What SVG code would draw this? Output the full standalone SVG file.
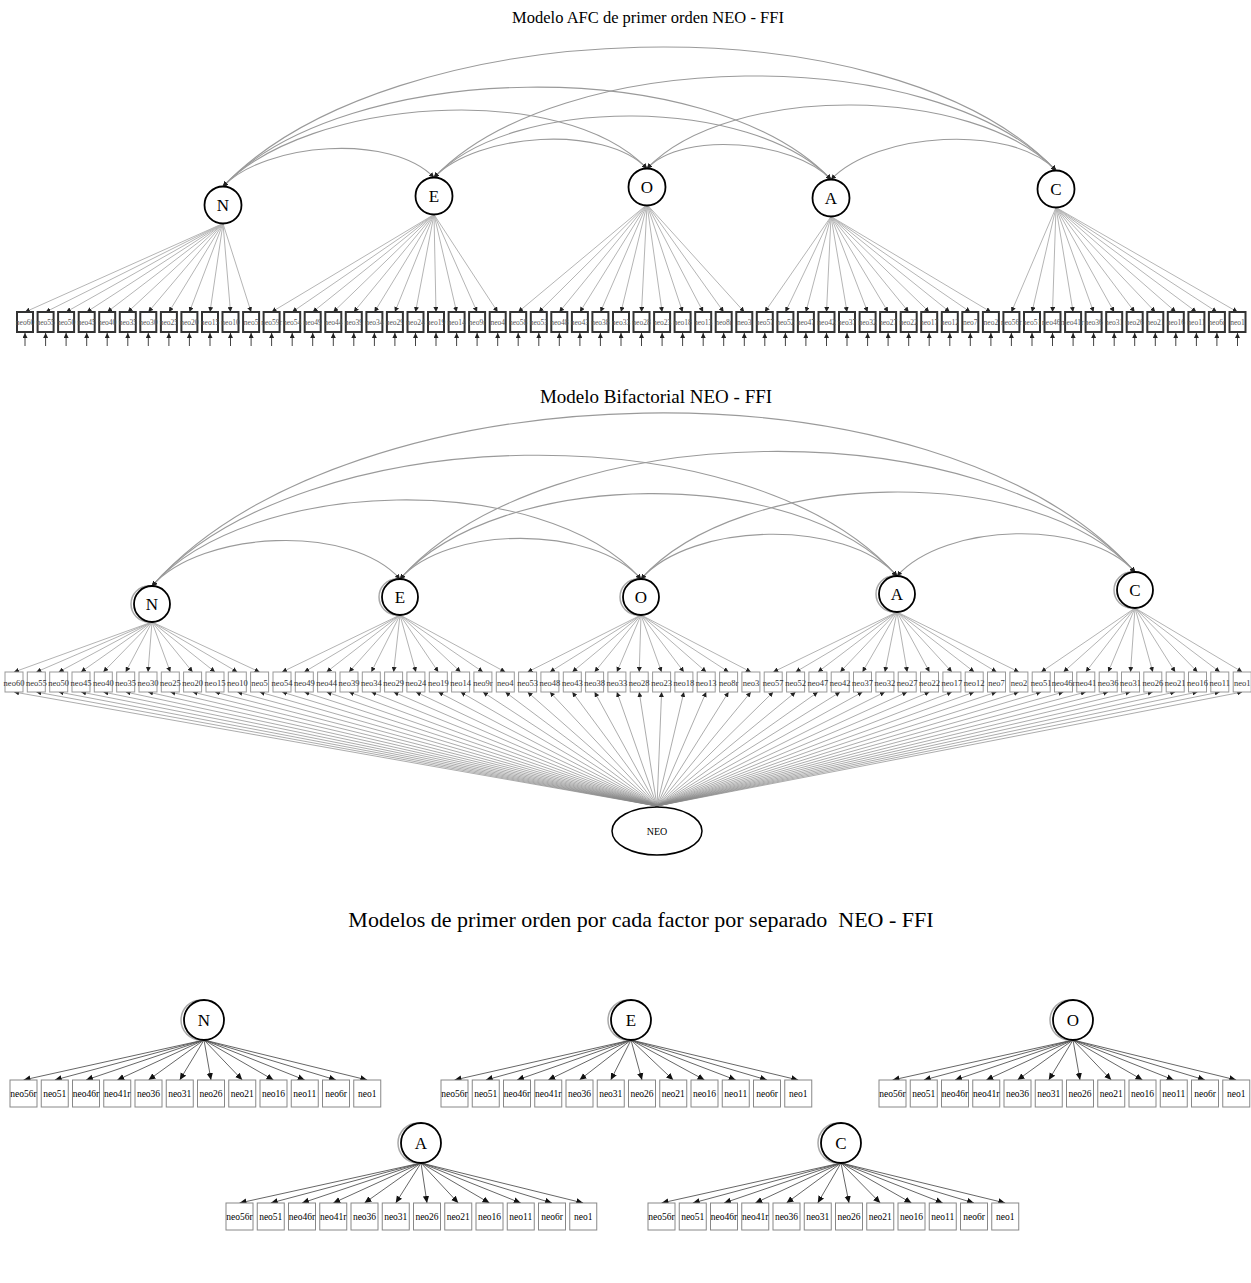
<svg xmlns="http://www.w3.org/2000/svg" width="1251" height="1283" viewBox="0 0 1251 1283">
<defs>
<marker id="ah" viewBox="0 0 10 10" refX="10" refY="5" markerWidth="5" markerHeight="5" markerUnits="userSpaceOnUse" orient="auto-start-reverse"><path d="M0,0L10,5L0,10z" fill="#222"/></marker>
<marker id="ah3" viewBox="0 0 10 10" refX="10" refY="5" markerWidth="7" markerHeight="7" markerUnits="userSpaceOnUse" orient="auto-start-reverse"><path d="M0,0.5L10,5L0,9.5z" fill="#111"/></marker>
</defs>
<style>
text{font-family:"Liberation Serif","Times New Roman",serif;fill:#000}
.title{font-size:16.5px;text-anchor:middle}
.lv circle{fill:#fff;stroke:#000;stroke-width:1.8}
.lv circle.sh{fill:none;stroke:#aaa;stroke-width:1.5}
.lv text{font-size:17px;text-anchor:middle}
.lv ellipse{fill:#fff;stroke:#000;stroke-width:1.5}
.lv text.neo{font-size:10px}
.s1 rect{fill:#fff;stroke:#333;stroke-width:2}
.s1 text{font-size:7.5px;text-anchor:middle;fill:#555}
.s2 rect{fill:#fff;stroke:#999;stroke-width:1}
.s2 text{font-size:8.5px;text-anchor:middle;fill:#333}
.s3 rect{fill:#fff;stroke:#888;stroke-width:1}
.s3 text{font-size:9.5px;text-anchor:middle}
.arc path{fill:none;stroke:#9a9a9a;stroke-width:1.1;marker-start:url(#ah);marker-end:url(#ah)}
.ld1 path{fill:none;stroke:#b5b5b5;stroke-width:1;marker-end:url(#ah)}
.rs1 path{fill:none;stroke:#444;stroke-width:1;marker-end:url(#ah)}
.ld2 path{fill:none;stroke:#aaa;stroke-width:0.9;marker-end:url(#ah)}
.gl2 path{fill:none;stroke:#888;stroke-width:0.7;marker-end:url(#ah)}
.ld3 path{fill:none;stroke:#555;stroke-width:0.9;marker-end:url(#ah3)}
</style>
<rect width="1251" height="1283" fill="#fff"/>

<text class="title" x="648" y="23">Modelo AFC de primer orden NEO - FFI</text>
<text class="title" x="656" y="403" style="font-size:19px">Modelo Bifactorial NEO - FFI</text>
<text class="title" x="641" y="927" style="font-size:22px;white-space:pre">Modelos de primer orden por cada factor por separado  NEO - FFI</text>

<g id="connectors">
<g class="arc" id="s1-covariances">
<path d="M223,186.5C265.2,142.2 391.8,133.2 434,177.5"/>
<path d="M223,186.5C307.8,97.5 562.2,79.5 647,168.5"/>
<path d="M223,186.5C344.6,58.8 709.4,51.8 831,179.5"/>
<path d="M223,186.5C389.6,11.6 889.4,-4.4 1056,170.5"/>
<path d="M434,177.5C476.6,132.8 604.4,123.8 647,168.5"/>
<path d="M434,177.5C513.4,94.1 751.6,96.1 831,179.5"/>
<path d="M434,177.5C558.4,46.9 931.6,39.9 1056,170.5"/>
<path d="M647,168.5C683.8,129.9 794.2,140.9 831,179.5"/>
<path d="M647,168.5C728.8,82.6 974.2,84.6 1056,170.5"/>
<path d="M831,179.5C876,132.2 1011,123.2 1056,170.5"/>
</g>
<g class="ld1" id="s1-loadings">
<path d="M223,223.5L25,312"/><path d="M223,223.5L45.6,312"/><path d="M223,223.5L66.1,312"/><path d="M223,223.5L86.7,312"/><path d="M223,223.5L107.2,312"/><path d="M223,223.5L127.8,312"/><path d="M223,223.5L148.3,312"/><path d="M223,223.5L168.9,312"/><path d="M223,223.5L189.4,312"/><path d="M223,223.5L210,312"/><path d="M223,223.5L230.5,312"/><path d="M223,223.5L251.1,312"/>
<path d="M434,214.5L271.6,312"/><path d="M434,214.5L292.2,312"/><path d="M434,214.5L312.7,312"/><path d="M434,214.5L333.3,312"/><path d="M434,214.5L353.8,312"/><path d="M434,214.5L374.4,312"/><path d="M434,214.5L394.9,312"/><path d="M434,214.5L415.5,312"/><path d="M434,214.5L436,312"/><path d="M434,214.5L456.6,312"/><path d="M434,214.5L477.1,312"/><path d="M434,214.5L497.7,312"/>
<path d="M647,204.5L518.2,312"/><path d="M647,204.5L538.8,312"/><path d="M647,204.5L559.3,312"/><path d="M647,204.5L579.9,312"/><path d="M647,204.5L600.4,312"/><path d="M647,204.5L621,312"/><path d="M647,204.5L641.5,312"/><path d="M647,204.5L662.1,312"/><path d="M647,204.5L682.6,312"/><path d="M647,204.5L703.2,312"/><path d="M647,204.5L723.7,312"/><path d="M647,204.5L744.3,312"/>
<path d="M831,216.5L764.8,312"/><path d="M831,216.5L785.4,312"/><path d="M831,216.5L805.9,312"/><path d="M831,216.5L826.5,312"/><path d="M831,216.5L847,312"/><path d="M831,216.5L867.6,312"/><path d="M831,216.5L888.1,312"/><path d="M831,216.5L908.7,312"/><path d="M831,216.5L929.2,312"/><path d="M831,216.5L949.8,312"/><path d="M831,216.5L970.3,312"/><path d="M831,216.5L990.9,312"/>
<path d="M1056,207.5L1011.4,312"/><path d="M1056,207.5L1032,312"/><path d="M1056,207.5L1052.5,312"/><path d="M1056,207.5L1073.1,312"/><path d="M1056,207.5L1093.6,312"/><path d="M1056,207.5L1114.2,312"/><path d="M1056,207.5L1134.7,312"/><path d="M1056,207.5L1155.3,312"/><path d="M1056,207.5L1175.8,312"/><path d="M1056,207.5L1196.4,312"/><path d="M1056,207.5L1216.9,312"/><path d="M1056,207.5L1237.5,312"/>
</g>
<g class="rs1" id="s1-residuals">
<path d="M25,346V333"/><path d="M45.6,346V333"/><path d="M66.1,346V333"/><path d="M86.7,346V333"/><path d="M107.2,346V333"/><path d="M127.8,346V333"/><path d="M148.3,346V333"/><path d="M168.9,346V333"/><path d="M189.4,346V333"/><path d="M210,346V333"/><path d="M230.5,346V333"/><path d="M251.1,346V333"/>
<path d="M271.6,346V333"/><path d="M292.2,346V333"/><path d="M312.7,346V333"/><path d="M333.3,346V333"/><path d="M353.8,346V333"/><path d="M374.4,346V333"/><path d="M394.9,346V333"/><path d="M415.5,346V333"/><path d="M436,346V333"/><path d="M456.6,346V333"/><path d="M477.1,346V333"/><path d="M497.7,346V333"/>
<path d="M518.2,346V333"/><path d="M538.8,346V333"/><path d="M559.3,346V333"/><path d="M579.9,346V333"/><path d="M600.4,346V333"/><path d="M621,346V333"/><path d="M641.5,346V333"/><path d="M662.1,346V333"/><path d="M682.6,346V333"/><path d="M703.2,346V333"/><path d="M723.7,346V333"/><path d="M744.3,346V333"/>
<path d="M764.8,346V333"/><path d="M785.4,346V333"/><path d="M805.9,346V333"/><path d="M826.5,346V333"/><path d="M847,346V333"/><path d="M867.6,346V333"/><path d="M888.1,346V333"/><path d="M908.7,346V333"/><path d="M929.2,346V333"/><path d="M949.8,346V333"/><path d="M970.3,346V333"/><path d="M990.9,346V333"/>
<path d="M1011.4,346V333"/><path d="M1032,346V333"/><path d="M1052.5,346V333"/><path d="M1073.1,346V333"/><path d="M1093.6,346V333"/><path d="M1114.2,346V333"/><path d="M1134.7,346V333"/><path d="M1155.3,346V333"/><path d="M1175.8,346V333"/><path d="M1196.4,346V333"/><path d="M1216.9,346V333"/><path d="M1237.5,346V333"/>
</g>

<g class="arc" id="s2-covariances">
<path d="M152,586C201.6,530.2 350.4,523.2 400,579"/>
<path d="M152,586C249.8,476 543.2,469 641,579"/>
<path d="M152,586C301,418.4 748,408.4 897,576"/>
<path d="M152,586C348.6,364.8 938.4,350.8 1135,572"/>
<path d="M400,579C448.2,524.8 592.8,524.8 641,579"/>
<path d="M400,579C499.4,467.2 797.6,464.2 897,576"/>
<path d="M400,579C547,413.6 988,406.6 1135,572"/>
<path d="M641,579C692.2,521.4 845.8,518.4 897,576"/>
<path d="M641,579C739.8,467.8 1036.2,460.8 1135,572"/>
<path d="M897,576C944.6,522.4 1087.4,518.4 1135,572"/>
</g>
<g class="ld2" id="s2-loadings">
<path d="M152,622L14,672"/><path d="M152,622L36.3,672"/><path d="M152,622L58.7,672"/><path d="M152,622L81,672"/><path d="M152,622L103.3,672"/><path d="M152,622L125.7,672"/><path d="M152,622L148,672"/><path d="M152,622L170.3,672"/><path d="M152,622L192.6,672"/><path d="M152,622L215,672"/><path d="M152,622L237.3,672"/><path d="M152,622L259.6,672"/>
<path d="M400,615L282,672"/><path d="M400,615L304.3,672"/><path d="M400,615L326.6,672"/><path d="M400,615L349,672"/><path d="M400,615L371.3,672"/><path d="M400,615L393.6,672"/><path d="M400,615L415.9,672"/><path d="M400,615L438.3,672"/><path d="M400,615L460.6,672"/><path d="M400,615L482.9,672"/><path d="M400,615L505.3,672"/>
<path d="M641,615L527.6,672"/><path d="M641,615L549.9,672"/><path d="M641,615L572.3,672"/><path d="M641,615L594.6,672"/><path d="M641,615L616.9,672"/><path d="M641,615L639.2,672"/><path d="M641,615L661.6,672"/><path d="M641,615L683.9,672"/><path d="M641,615L706.2,672"/><path d="M641,615L728.6,672"/><path d="M641,615L750.9,672"/>
<path d="M897,612L773.2,672"/><path d="M897,612L795.6,672"/><path d="M897,612L817.9,672"/><path d="M897,612L840.2,672"/><path d="M897,612L862.5,672"/><path d="M897,612L884.9,672"/><path d="M897,612L907.2,672"/><path d="M897,612L929.5,672"/><path d="M897,612L951.9,672"/><path d="M897,612L974.2,672"/><path d="M897,612L996.5,672"/><path d="M897,612L1018.9,672"/>
<path d="M1135,608L1041.2,672"/><path d="M1135,608L1063.5,672"/><path d="M1135,608L1085.8,672"/><path d="M1135,608L1108.2,672"/><path d="M1135,608L1130.5,672"/><path d="M1135,608L1152.8,672"/><path d="M1135,608L1175.2,672"/><path d="M1135,608L1197.5,672"/><path d="M1135,608L1219.8,672"/><path d="M1135,608L1242.2,672"/>
</g>
<g class="gl2" id="s2-general">
<path d="M657,806L14,692"/><path d="M657,806L36.3,692"/><path d="M657,806L58.7,692"/><path d="M657,806L81,692"/><path d="M657,806L103.3,692"/><path d="M657,806L125.7,692"/><path d="M657,806L148,692"/><path d="M657,806L170.3,692"/><path d="M657,806L192.6,692"/><path d="M657,806L215,692"/><path d="M657,806L237.3,692"/><path d="M657,806L259.6,692"/>
<path d="M657,806L282,692"/><path d="M657,806L304.3,692"/><path d="M657,806L326.6,692"/><path d="M657,806L349,692"/><path d="M657,806L371.3,692"/><path d="M657,806L393.6,692"/><path d="M657,806L415.9,692"/><path d="M657,806L438.3,692"/><path d="M657,806L460.6,692"/><path d="M657,806L482.9,692"/><path d="M657,806L505.3,692"/>
<path d="M657,806L527.6,692"/><path d="M657,806L549.9,692"/><path d="M657,806L572.3,692"/><path d="M657,806L594.6,692"/><path d="M657,806L616.9,692"/><path d="M657,806L639.2,692"/><path d="M657,806L661.6,692"/><path d="M657,806L683.9,692"/><path d="M657,806L706.2,692"/><path d="M657,806L728.6,692"/><path d="M657,806L750.9,692"/>
<path d="M657,806L773.2,692"/><path d="M657,806L795.6,692"/><path d="M657,806L817.9,692"/><path d="M657,806L840.2,692"/><path d="M657,806L862.5,692"/><path d="M657,806L884.9,692"/><path d="M657,806L907.2,692"/><path d="M657,806L929.5,692"/><path d="M657,806L951.9,692"/><path d="M657,806L974.2,692"/><path d="M657,806L996.5,692"/><path d="M657,806L1018.9,692"/>
<path d="M657,806L1041.2,692"/><path d="M657,806L1063.5,692"/><path d="M657,806L1085.8,692"/><path d="M657,806L1108.2,692"/><path d="M657,806L1130.5,692"/><path d="M657,806L1152.8,692"/><path d="M657,806L1175.2,692"/><path d="M657,806L1197.5,692"/><path d="M657,806L1219.8,692"/><path d="M657,806L1242.2,692"/>
</g>

<g class="ld3" id="s3-loadings">
<path d="M204,1040L23.5,1080"/><path d="M204,1040L54.75,1080"/><path d="M204,1040L86,1080"/><path d="M204,1040L117.25,1080"/><path d="M204,1040L148.5,1080"/><path d="M204,1040L179.75,1080"/><path d="M204,1040L211,1080"/><path d="M204,1040L242.25,1080"/><path d="M204,1040L273.5,1080"/><path d="M204,1040L304.75,1080"/><path d="M204,1040L336,1080"/><path d="M204,1040L367.25,1080"/>
<path d="M631,1040L454.5,1080"/><path d="M631,1040L485.75,1080"/><path d="M631,1040L517,1080"/><path d="M631,1040L548.25,1080"/><path d="M631,1040L579.5,1080"/><path d="M631,1040L610.75,1080"/><path d="M631,1040L642,1080"/><path d="M631,1040L673.25,1080"/><path d="M631,1040L704.5,1080"/><path d="M631,1040L735.75,1080"/><path d="M631,1040L767,1080"/><path d="M631,1040L798.25,1080"/>
<path d="M1073,1040L892.5,1080"/><path d="M1073,1040L923.75,1080"/><path d="M1073,1040L955,1080"/><path d="M1073,1040L986.25,1080"/><path d="M1073,1040L1017.5,1080"/><path d="M1073,1040L1048.75,1080"/><path d="M1073,1040L1080,1080"/><path d="M1073,1040L1111.25,1080"/><path d="M1073,1040L1142.5,1080"/><path d="M1073,1040L1173.75,1080"/><path d="M1073,1040L1205,1080"/><path d="M1073,1040L1236.25,1080"/>
<path d="M421,1163L239.5,1203"/><path d="M421,1163L270.75,1203"/><path d="M421,1163L302,1203"/><path d="M421,1163L333.25,1203"/><path d="M421,1163L364.5,1203"/><path d="M421,1163L395.75,1203"/><path d="M421,1163L427,1203"/><path d="M421,1163L458.25,1203"/><path d="M421,1163L489.5,1203"/><path d="M421,1163L520.75,1203"/><path d="M421,1163L552,1203"/><path d="M421,1163L583.25,1203"/>
<path d="M841,1163L661.5,1203"/><path d="M841,1163L692.75,1203"/><path d="M841,1163L724,1203"/><path d="M841,1163L755.25,1203"/><path d="M841,1163L786.5,1203"/><path d="M841,1163L817.75,1203"/><path d="M841,1163L849,1203"/><path d="M841,1163L880.25,1203"/><path d="M841,1163L911.5,1203"/><path d="M841,1163L942.75,1203"/><path d="M841,1163L974,1203"/><path d="M841,1163L1005.25,1203"/>
</g>
</g>

<!-- Section 1 latent nodes -->
<g class="lv">
<g id="s1-N"><circle cx="223" cy="205" r="18.5"/><text x="223" y="211">N</text></g>
<g id="s1-E"><circle cx="434" cy="196" r="18.5"/><text x="434" y="202">E</text></g>
<g id="s1-O"><circle cx="647" cy="187" r="18.5"/><text x="647" y="193">O</text></g>
<g id="s1-A"><circle cx="831" cy="198" r="18.5"/><text x="831" y="204">A</text></g>
<g id="s1-C"><circle cx="1056" cy="189" r="18.5"/><text x="1056" y="195">C</text></g>
</g>
<!-- Section 1 items -->
<g class="s1">
<g id="s1-neo60" transform="translate(25,312)"><rect x="-8" width="16" height="20"/><text y="13">neo60</text></g>
<g id="s1-neo55" transform="translate(45.6,312)"><rect x="-8" width="16" height="20"/><text y="13">neo55</text></g>
<g id="s1-neo50" transform="translate(66.1,312)"><rect x="-8" width="16" height="20"/><text y="13">neo50</text></g>
<g id="s1-neo45" transform="translate(86.7,312)"><rect x="-8" width="16" height="20"/><text y="13">neo45</text></g>
<g id="s1-neo40" transform="translate(107.2,312)"><rect x="-8" width="16" height="20"/><text y="13">neo40</text></g>
<g id="s1-neo35" transform="translate(127.8,312)"><rect x="-8" width="16" height="20"/><text y="13">neo35</text></g>
<g id="s1-neo30" transform="translate(148.3,312)"><rect x="-8" width="16" height="20"/><text y="13">neo30</text></g>
<g id="s1-neo25" transform="translate(168.9,312)"><rect x="-8" width="16" height="20"/><text y="13">neo25</text></g>
<g id="s1-neo20" transform="translate(189.4,312)"><rect x="-8" width="16" height="20"/><text y="13">neo20</text></g>
<g id="s1-neo15" transform="translate(210,312)"><rect x="-8" width="16" height="20"/><text y="13">neo15</text></g>
<g id="s1-neo10" transform="translate(230.5,312)"><rect x="-8" width="16" height="20"/><text y="13">neo10</text></g>
<g id="s1-neo5" transform="translate(251.1,312)"><rect x="-8" width="16" height="20"/><text y="13">neo5</text></g>
<g id="s1-neo59r" transform="translate(271.6,312)"><rect x="-8" width="16" height="20"/><text y="13">neo59r</text></g>
<g id="s1-neo54" transform="translate(292.2,312)"><rect x="-8" width="16" height="20"/><text y="13">neo54</text></g>
<g id="s1-neo49" transform="translate(312.7,312)"><rect x="-8" width="16" height="20"/><text y="13">neo49</text></g>
<g id="s1-neo44" transform="translate(333.3,312)"><rect x="-8" width="16" height="20"/><text y="13">neo44</text></g>
<g id="s1-neo39" transform="translate(353.8,312)"><rect x="-8" width="16" height="20"/><text y="13">neo39</text></g>
<g id="s1-neo34" transform="translate(374.4,312)"><rect x="-8" width="16" height="20"/><text y="13">neo34</text></g>
<g id="s1-neo29" transform="translate(394.9,312)"><rect x="-8" width="16" height="20"/><text y="13">neo29</text></g>
<g id="s1-neo24" transform="translate(415.5,312)"><rect x="-8" width="16" height="20"/><text y="13">neo24</text></g>
<g id="s1-neo19" transform="translate(436,312)"><rect x="-8" width="16" height="20"/><text y="13">neo19</text></g>
<g id="s1-neo14" transform="translate(456.6,312)"><rect x="-8" width="16" height="20"/><text y="13">neo14</text></g>
<g id="s1-neo9r" transform="translate(477.1,312)"><rect x="-8" width="16" height="20"/><text y="13">neo9r</text></g>
<g id="s1-neo4" transform="translate(497.7,312)"><rect x="-8" width="16" height="20"/><text y="13">neo4</text></g>
<g id="s1-neo58" transform="translate(518.2,312)"><rect x="-8" width="16" height="20"/><text y="13">neo58</text></g>
<g id="s1-neo53" transform="translate(538.8,312)"><rect x="-8" width="16" height="20"/><text y="13">neo53</text></g>
<g id="s1-neo48" transform="translate(559.3,312)"><rect x="-8" width="16" height="20"/><text y="13">neo48</text></g>
<g id="s1-neo43" transform="translate(579.9,312)"><rect x="-8" width="16" height="20"/><text y="13">neo43</text></g>
<g id="s1-neo38" transform="translate(600.4,312)"><rect x="-8" width="16" height="20"/><text y="13">neo38</text></g>
<g id="s1-neo33" transform="translate(621,312)"><rect x="-8" width="16" height="20"/><text y="13">neo33</text></g>
<g id="s1-neo28" transform="translate(641.5,312)"><rect x="-8" width="16" height="20"/><text y="13">neo28</text></g>
<g id="s1-neo23" transform="translate(662.1,312)"><rect x="-8" width="16" height="20"/><text y="13">neo23</text></g>
<g id="s1-neo18" transform="translate(682.6,312)"><rect x="-8" width="16" height="20"/><text y="13">neo18</text></g>
<g id="s1-neo13" transform="translate(703.2,312)"><rect x="-8" width="16" height="20"/><text y="13">neo13</text></g>
<g id="s1-neo8r" transform="translate(723.7,312)"><rect x="-8" width="16" height="20"/><text y="13">neo8r</text></g>
<g id="s1-neo3" transform="translate(744.3,312)"><rect x="-8" width="16" height="20"/><text y="13">neo3</text></g>
<g id="s1-neo57" transform="translate(764.8,312)"><rect x="-8" width="16" height="20"/><text y="13">neo57</text></g>
<g id="s1-neo52" transform="translate(785.4,312)"><rect x="-8" width="16" height="20"/><text y="13">neo52</text></g>
<g id="s1-neo47" transform="translate(805.9,312)"><rect x="-8" width="16" height="20"/><text y="13">neo47</text></g>
<g id="s1-neo42" transform="translate(826.5,312)"><rect x="-8" width="16" height="20"/><text y="13">neo42</text></g>
<g id="s1-neo37" transform="translate(847,312)"><rect x="-8" width="16" height="20"/><text y="13">neo37</text></g>
<g id="s1-neo32" transform="translate(867.6,312)"><rect x="-8" width="16" height="20"/><text y="13">neo32</text></g>
<g id="s1-neo27" transform="translate(888.1,312)"><rect x="-8" width="16" height="20"/><text y="13">neo27</text></g>
<g id="s1-neo22" transform="translate(908.7,312)"><rect x="-8" width="16" height="20"/><text y="13">neo22</text></g>
<g id="s1-neo17" transform="translate(929.2,312)"><rect x="-8" width="16" height="20"/><text y="13">neo17</text></g>
<g id="s1-neo12" transform="translate(949.8,312)"><rect x="-8" width="16" height="20"/><text y="13">neo12</text></g>
<g id="s1-neo7" transform="translate(970.3,312)"><rect x="-8" width="16" height="20"/><text y="13">neo7</text></g>
<g id="s1-neo2" transform="translate(990.9,312)"><rect x="-8" width="16" height="20"/><text y="13">neo2</text></g>
<g id="s1-neo56r" transform="translate(1011.4,312)"><rect x="-8" width="16" height="20"/><text y="13">neo56r</text></g>
<g id="s1-neo51" transform="translate(1032,312)"><rect x="-8" width="16" height="20"/><text y="13">neo51</text></g>
<g id="s1-neo46r" transform="translate(1052.5,312)"><rect x="-8" width="16" height="20"/><text y="13">neo46r</text></g>
<g id="s1-neo41r" transform="translate(1073.1,312)"><rect x="-8" width="16" height="20"/><text y="13">neo41r</text></g>
<g id="s1-neo36" transform="translate(1093.6,312)"><rect x="-8" width="16" height="20"/><text y="13">neo36</text></g>
<g id="s1-neo31" transform="translate(1114.2,312)"><rect x="-8" width="16" height="20"/><text y="13">neo31</text></g>
<g id="s1-neo26" transform="translate(1134.7,312)"><rect x="-8" width="16" height="20"/><text y="13">neo26</text></g>
<g id="s1-neo21" transform="translate(1155.3,312)"><rect x="-8" width="16" height="20"/><text y="13">neo21</text></g>
<g id="s1-neo16" transform="translate(1175.8,312)"><rect x="-8" width="16" height="20"/><text y="13">neo16</text></g>
<g id="s1-neo11" transform="translate(1196.4,312)"><rect x="-8" width="16" height="20"/><text y="13">neo11</text></g>
<g id="s1-neo6r" transform="translate(1216.9,312)"><rect x="-8" width="16" height="20"/><text y="13">neo6r</text></g>
<g id="s1-neo1" transform="translate(1237.5,312)"><rect x="-8" width="16" height="20"/><text y="13">neo1</text></g>
</g>

<!-- Section 2 latent nodes -->
<g class="lv">
<g id="s2-N"><circle class="sh" cx="149" cy="604" r="18"/><circle cx="152" cy="604" r="18"/><text x="152" y="610">N</text></g>
<g id="s2-E"><circle class="sh" cx="397" cy="597" r="18"/><circle cx="400" cy="597" r="18"/><text x="400" y="603">E</text></g>
<g id="s2-O"><circle class="sh" cx="638" cy="597" r="18"/><circle cx="641" cy="597" r="18"/><text x="641" y="603">O</text></g>
<g id="s2-A"><circle class="sh" cx="894" cy="594" r="18"/><circle cx="897" cy="594" r="18"/><text x="897" y="600">A</text></g>
<g id="s2-C"><circle class="sh" cx="1132" cy="590" r="18"/><circle cx="1135" cy="590" r="18"/><text x="1135" y="596">C</text></g>
<g id="s2-NEO"><ellipse cx="657" cy="831" rx="45" ry="24"/><text class="neo" x="657" y="835">NEO</text></g>
</g>
<!-- Section 2 items -->
<g class="s2">
<g id="s2-neo60" transform="translate(14,672)"><rect x="-9" width="18" height="20"/><text y="14">neo60</text></g>
<g id="s2-neo55" transform="translate(36.3,672)"><rect x="-9" width="18" height="20"/><text y="14">neo55</text></g>
<g id="s2-neo50" transform="translate(58.7,672)"><rect x="-9" width="18" height="20"/><text y="14">neo50</text></g>
<g id="s2-neo45" transform="translate(81,672)"><rect x="-9" width="18" height="20"/><text y="14">neo45</text></g>
<g id="s2-neo40" transform="translate(103.3,672)"><rect x="-9" width="18" height="20"/><text y="14">neo40</text></g>
<g id="s2-neo35" transform="translate(125.7,672)"><rect x="-9" width="18" height="20"/><text y="14">neo35</text></g>
<g id="s2-neo30" transform="translate(148,672)"><rect x="-9" width="18" height="20"/><text y="14">neo30</text></g>
<g id="s2-neo25" transform="translate(170.3,672)"><rect x="-9" width="18" height="20"/><text y="14">neo25</text></g>
<g id="s2-neo20" transform="translate(192.6,672)"><rect x="-9" width="18" height="20"/><text y="14">neo20</text></g>
<g id="s2-neo15" transform="translate(215,672)"><rect x="-9" width="18" height="20"/><text y="14">neo15</text></g>
<g id="s2-neo10" transform="translate(237.3,672)"><rect x="-9" width="18" height="20"/><text y="14">neo10</text></g>
<g id="s2-neo5" transform="translate(259.6,672)"><rect x="-9" width="18" height="20"/><text y="14">neo5</text></g>
<g id="s2-neo54" transform="translate(282,672)"><rect x="-9" width="18" height="20"/><text y="14">neo54</text></g>
<g id="s2-neo49" transform="translate(304.3,672)"><rect x="-9" width="18" height="20"/><text y="14">neo49</text></g>
<g id="s2-neo44" transform="translate(326.6,672)"><rect x="-9" width="18" height="20"/><text y="14">neo44</text></g>
<g id="s2-neo39" transform="translate(349,672)"><rect x="-9" width="18" height="20"/><text y="14">neo39</text></g>
<g id="s2-neo34" transform="translate(371.3,672)"><rect x="-9" width="18" height="20"/><text y="14">neo34</text></g>
<g id="s2-neo29" transform="translate(393.6,672)"><rect x="-9" width="18" height="20"/><text y="14">neo29</text></g>
<g id="s2-neo24" transform="translate(415.9,672)"><rect x="-9" width="18" height="20"/><text y="14">neo24</text></g>
<g id="s2-neo19" transform="translate(438.3,672)"><rect x="-9" width="18" height="20"/><text y="14">neo19</text></g>
<g id="s2-neo14" transform="translate(460.6,672)"><rect x="-9" width="18" height="20"/><text y="14">neo14</text></g>
<g id="s2-neo9r" transform="translate(482.9,672)"><rect x="-9" width="18" height="20"/><text y="14">neo9r</text></g>
<g id="s2-neo4" transform="translate(505.3,672)"><rect x="-9" width="18" height="20"/><text y="14">neo4</text></g>
<g id="s2-neo53" transform="translate(527.6,672)"><rect x="-9" width="18" height="20"/><text y="14">neo53</text></g>
<g id="s2-neo48" transform="translate(549.9,672)"><rect x="-9" width="18" height="20"/><text y="14">neo48</text></g>
<g id="s2-neo43" transform="translate(572.3,672)"><rect x="-9" width="18" height="20"/><text y="14">neo43</text></g>
<g id="s2-neo38" transform="translate(594.6,672)"><rect x="-9" width="18" height="20"/><text y="14">neo38</text></g>
<g id="s2-neo33" transform="translate(616.9,672)"><rect x="-9" width="18" height="20"/><text y="14">neo33</text></g>
<g id="s2-neo28" transform="translate(639.2,672)"><rect x="-9" width="18" height="20"/><text y="14">neo28</text></g>
<g id="s2-neo23" transform="translate(661.6,672)"><rect x="-9" width="18" height="20"/><text y="14">neo23</text></g>
<g id="s2-neo18" transform="translate(683.9,672)"><rect x="-9" width="18" height="20"/><text y="14">neo18</text></g>
<g id="s2-neo13" transform="translate(706.2,672)"><rect x="-9" width="18" height="20"/><text y="14">neo13</text></g>
<g id="s2-neo8r" transform="translate(728.6,672)"><rect x="-9" width="18" height="20"/><text y="14">neo8r</text></g>
<g id="s2-neo3" transform="translate(750.9,672)"><rect x="-9" width="18" height="20"/><text y="14">neo3</text></g>
<g id="s2-neo57" transform="translate(773.2,672)"><rect x="-9" width="18" height="20"/><text y="14">neo57</text></g>
<g id="s2-neo52" transform="translate(795.6,672)"><rect x="-9" width="18" height="20"/><text y="14">neo52</text></g>
<g id="s2-neo47" transform="translate(817.9,672)"><rect x="-9" width="18" height="20"/><text y="14">neo47</text></g>
<g id="s2-neo42" transform="translate(840.2,672)"><rect x="-9" width="18" height="20"/><text y="14">neo42</text></g>
<g id="s2-neo37" transform="translate(862.5,672)"><rect x="-9" width="18" height="20"/><text y="14">neo37</text></g>
<g id="s2-neo32" transform="translate(884.9,672)"><rect x="-9" width="18" height="20"/><text y="14">neo32</text></g>
<g id="s2-neo27" transform="translate(907.2,672)"><rect x="-9" width="18" height="20"/><text y="14">neo27</text></g>
<g id="s2-neo22" transform="translate(929.5,672)"><rect x="-9" width="18" height="20"/><text y="14">neo22</text></g>
<g id="s2-neo17" transform="translate(951.9,672)"><rect x="-9" width="18" height="20"/><text y="14">neo17</text></g>
<g id="s2-neo12" transform="translate(974.2,672)"><rect x="-9" width="18" height="20"/><text y="14">neo12</text></g>
<g id="s2-neo7" transform="translate(996.5,672)"><rect x="-9" width="18" height="20"/><text y="14">neo7</text></g>
<g id="s2-neo2" transform="translate(1018.9,672)"><rect x="-9" width="18" height="20"/><text y="14">neo2</text></g>
<g id="s2-neo51" transform="translate(1041.2,672)"><rect x="-9" width="18" height="20"/><text y="14">neo51</text></g>
<g id="s2-neo46r" transform="translate(1063.5,672)"><rect x="-9" width="18" height="20"/><text y="14">neo46r</text></g>
<g id="s2-neo41" transform="translate(1085.8,672)"><rect x="-9" width="18" height="20"/><text y="14">neo41</text></g>
<g id="s2-neo36" transform="translate(1108.2,672)"><rect x="-9" width="18" height="20"/><text y="14">neo36</text></g>
<g id="s2-neo31" transform="translate(1130.5,672)"><rect x="-9" width="18" height="20"/><text y="14">neo31</text></g>
<g id="s2-neo26" transform="translate(1152.8,672)"><rect x="-9" width="18" height="20"/><text y="14">neo26</text></g>
<g id="s2-neo21" transform="translate(1175.2,672)"><rect x="-9" width="18" height="20"/><text y="14">neo21</text></g>
<g id="s2-neo16" transform="translate(1197.5,672)"><rect x="-9" width="18" height="20"/><text y="14">neo16</text></g>
<g id="s2-neo11" transform="translate(1219.8,672)"><rect x="-9" width="18" height="20"/><text y="14">neo11</text></g>
<g id="s2-neo1" transform="translate(1242.2,672)"><rect x="-9" width="18" height="20"/><text y="14">neo1</text></g>
</g>

<!-- Section 3 latent nodes -->
<g class="lv">
<g id="s3-N"><circle class="sh" cx="201" cy="1020" r="20"/><circle cx="204" cy="1020" r="20"/><text x="204" y="1026">N</text></g>
<g id="s3-E"><circle class="sh" cx="628" cy="1020" r="20"/><circle cx="631" cy="1020" r="20"/><text x="631" y="1026">E</text></g>
<g id="s3-O"><circle class="sh" cx="1070" cy="1020" r="20"/><circle cx="1073" cy="1020" r="20"/><text x="1073" y="1026">O</text></g>
<g id="s3-A"><circle class="sh" cx="418" cy="1143" r="20"/><circle cx="421" cy="1143" r="20"/><text x="421" y="1149">A</text></g>
<g id="s3-C"><circle class="sh" cx="838" cy="1143" r="20"/><circle cx="841" cy="1143" r="20"/><text x="841" y="1149">C</text></g>
</g>
<!-- Section 3 items -->
<g class="s3" transform="translate(10,1080)">
<g id="n-neo56r"><rect x="0" width="27" height="27"/><text x="13.5" y="17">neo56r</text></g>
<g id="n-neo51"><rect x="31.25" width="27" height="27"/><text x="44.75" y="17">neo51</text></g>
<g id="n-neo46r"><rect x="62.5" width="27" height="27"/><text x="76" y="17">neo46r</text></g>
<g id="n-neo41r"><rect x="93.75" width="27" height="27"/><text x="107.25" y="17">neo41r</text></g>
<g id="n-neo36"><rect x="125" width="27" height="27"/><text x="138.5" y="17">neo36</text></g>
<g id="n-neo31"><rect x="156.25" width="27" height="27"/><text x="169.75" y="17">neo31</text></g>
<g id="n-neo26"><rect x="187.5" width="27" height="27"/><text x="201" y="17">neo26</text></g>
<g id="n-neo21"><rect x="218.75" width="27" height="27"/><text x="232.25" y="17">neo21</text></g>
<g id="n-neo16"><rect x="250" width="27" height="27"/><text x="263.5" y="17">neo16</text></g>
<g id="n-neo11"><rect x="281.25" width="27" height="27"/><text x="294.75" y="17">neo11</text></g>
<g id="n-neo6r"><rect x="312.5" width="27" height="27"/><text x="326" y="17">neo6r</text></g>
<g id="n-neo1"><rect x="343.75" width="27" height="27"/><text x="357.25" y="17">neo1</text></g>
</g>
<g class="s3" transform="translate(441,1080)">
<g id="e-neo56r"><rect x="0" width="27" height="27"/><text x="13.5" y="17">neo56r</text></g>
<g id="e-neo51"><rect x="31.25" width="27" height="27"/><text x="44.75" y="17">neo51</text></g>
<g id="e-neo46r"><rect x="62.5" width="27" height="27"/><text x="76" y="17">neo46r</text></g>
<g id="e-neo41r"><rect x="93.75" width="27" height="27"/><text x="107.25" y="17">neo41r</text></g>
<g id="e-neo36"><rect x="125" width="27" height="27"/><text x="138.5" y="17">neo36</text></g>
<g id="e-neo31"><rect x="156.25" width="27" height="27"/><text x="169.75" y="17">neo31</text></g>
<g id="e-neo26"><rect x="187.5" width="27" height="27"/><text x="201" y="17">neo26</text></g>
<g id="e-neo21"><rect x="218.75" width="27" height="27"/><text x="232.25" y="17">neo21</text></g>
<g id="e-neo16"><rect x="250" width="27" height="27"/><text x="263.5" y="17">neo16</text></g>
<g id="e-neo11"><rect x="281.25" width="27" height="27"/><text x="294.75" y="17">neo11</text></g>
<g id="e-neo6r"><rect x="312.5" width="27" height="27"/><text x="326" y="17">neo6r</text></g>
<g id="e-neo1"><rect x="343.75" width="27" height="27"/><text x="357.25" y="17">neo1</text></g>
</g>
<g class="s3" transform="translate(879,1080)">
<g id="o-neo56r"><rect x="0" width="27" height="27"/><text x="13.5" y="17">neo56r</text></g>
<g id="o-neo51"><rect x="31.25" width="27" height="27"/><text x="44.75" y="17">neo51</text></g>
<g id="o-neo46r"><rect x="62.5" width="27" height="27"/><text x="76" y="17">neo46r</text></g>
<g id="o-neo41r"><rect x="93.75" width="27" height="27"/><text x="107.25" y="17">neo41r</text></g>
<g id="o-neo36"><rect x="125" width="27" height="27"/><text x="138.5" y="17">neo36</text></g>
<g id="o-neo31"><rect x="156.25" width="27" height="27"/><text x="169.75" y="17">neo31</text></g>
<g id="o-neo26"><rect x="187.5" width="27" height="27"/><text x="201" y="17">neo26</text></g>
<g id="o-neo21"><rect x="218.75" width="27" height="27"/><text x="232.25" y="17">neo21</text></g>
<g id="o-neo16"><rect x="250" width="27" height="27"/><text x="263.5" y="17">neo16</text></g>
<g id="o-neo11"><rect x="281.25" width="27" height="27"/><text x="294.75" y="17">neo11</text></g>
<g id="o-neo6r"><rect x="312.5" width="27" height="27"/><text x="326" y="17">neo6r</text></g>
<g id="o-neo1"><rect x="343.75" width="27" height="27"/><text x="357.25" y="17">neo1</text></g>
</g>
<g class="s3" transform="translate(226,1203)">
<g id="a-neo56r"><rect x="0" width="27" height="27"/><text x="13.5" y="17">neo56r</text></g>
<g id="a-neo51"><rect x="31.25" width="27" height="27"/><text x="44.75" y="17">neo51</text></g>
<g id="a-neo46r"><rect x="62.5" width="27" height="27"/><text x="76" y="17">neo46r</text></g>
<g id="a-neo41r"><rect x="93.75" width="27" height="27"/><text x="107.25" y="17">neo41r</text></g>
<g id="a-neo36"><rect x="125" width="27" height="27"/><text x="138.5" y="17">neo36</text></g>
<g id="a-neo31"><rect x="156.25" width="27" height="27"/><text x="169.75" y="17">neo31</text></g>
<g id="a-neo26"><rect x="187.5" width="27" height="27"/><text x="201" y="17">neo26</text></g>
<g id="a-neo21"><rect x="218.75" width="27" height="27"/><text x="232.25" y="17">neo21</text></g>
<g id="a-neo16"><rect x="250" width="27" height="27"/><text x="263.5" y="17">neo16</text></g>
<g id="a-neo11"><rect x="281.25" width="27" height="27"/><text x="294.75" y="17">neo11</text></g>
<g id="a-neo6r"><rect x="312.5" width="27" height="27"/><text x="326" y="17">neo6r</text></g>
<g id="a-neo1"><rect x="343.75" width="27" height="27"/><text x="357.25" y="17">neo1</text></g>
</g>
<g class="s3" transform="translate(648,1203)">
<g id="c-neo56r"><rect x="0" width="27" height="27"/><text x="13.5" y="17">neo56r</text></g>
<g id="c-neo51"><rect x="31.25" width="27" height="27"/><text x="44.75" y="17">neo51</text></g>
<g id="c-neo46r"><rect x="62.5" width="27" height="27"/><text x="76" y="17">neo46r</text></g>
<g id="c-neo41r"><rect x="93.75" width="27" height="27"/><text x="107.25" y="17">neo41r</text></g>
<g id="c-neo36"><rect x="125" width="27" height="27"/><text x="138.5" y="17">neo36</text></g>
<g id="c-neo31"><rect x="156.25" width="27" height="27"/><text x="169.75" y="17">neo31</text></g>
<g id="c-neo26"><rect x="187.5" width="27" height="27"/><text x="201" y="17">neo26</text></g>
<g id="c-neo21"><rect x="218.75" width="27" height="27"/><text x="232.25" y="17">neo21</text></g>
<g id="c-neo16"><rect x="250" width="27" height="27"/><text x="263.5" y="17">neo16</text></g>
<g id="c-neo11"><rect x="281.25" width="27" height="27"/><text x="294.75" y="17">neo11</text></g>
<g id="c-neo6r"><rect x="312.5" width="27" height="27"/><text x="326" y="17">neo6r</text></g>
<g id="c-neo1"><rect x="343.75" width="27" height="27"/><text x="357.25" y="17">neo1</text></g>
</g>
</svg>
